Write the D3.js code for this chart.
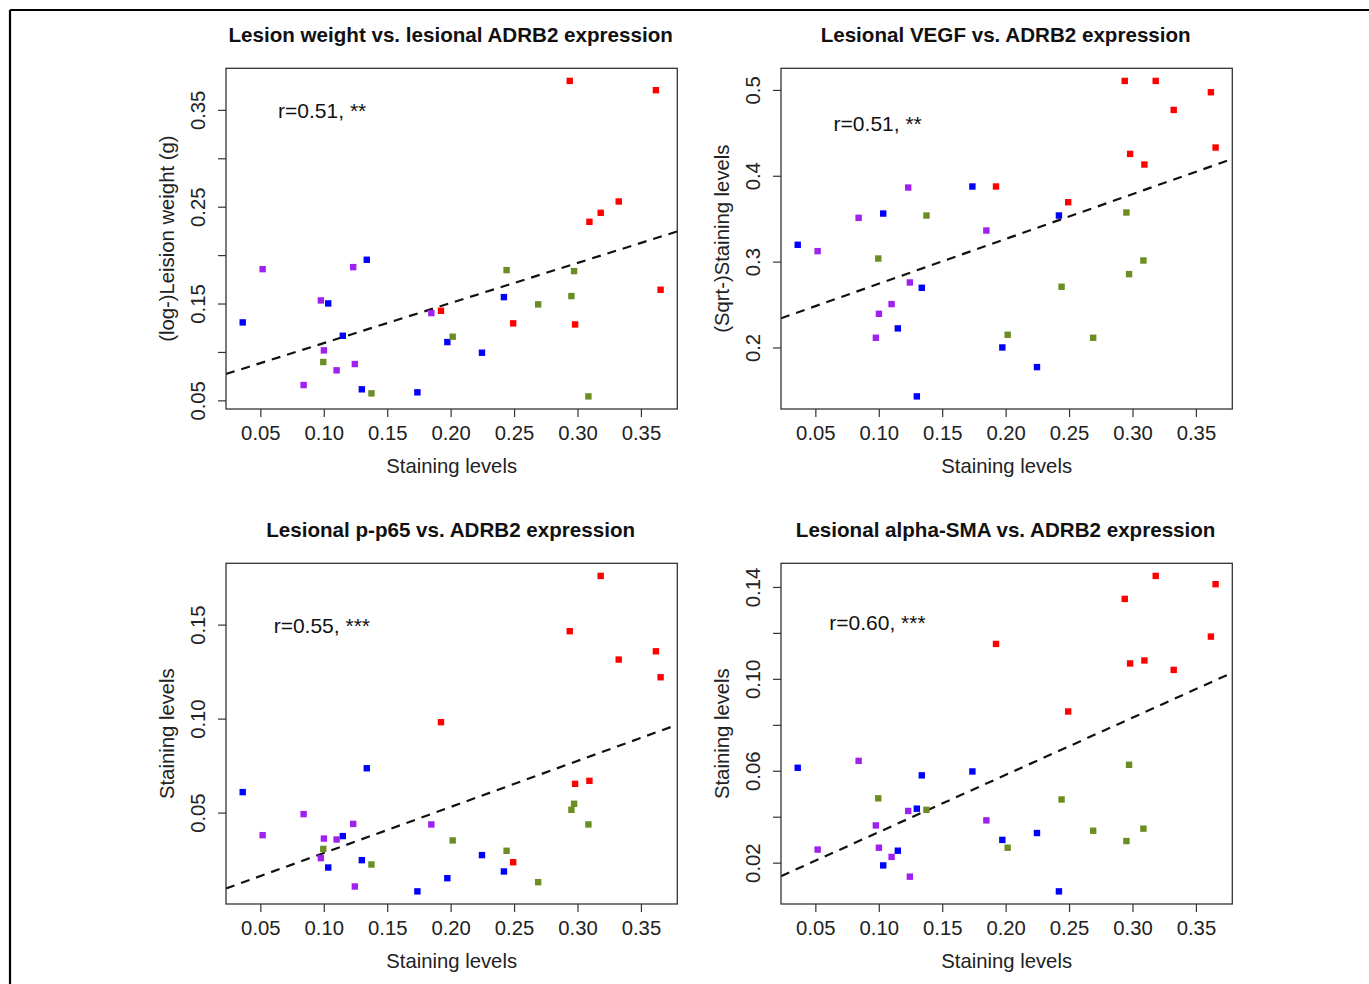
<!DOCTYPE html>
<html>
<head>
<meta charset="utf-8">
<script src="https://cdn.jsdelivr.net/npm/d3@7.9.0/dist/d3.min.js"></script>
<style>
  body { margin: 0; background: #fff; }
  svg { display: block; font-family: 'Liberation Sans', Arial, sans-serif; }
</style>
</head>
<body>
<div id="chart"></div>
<script>
// staining levels (x) shared by all four panels, one array per group
const redX = [0.1924, 0.2493, 0.2939, 0.2981, 0.3094, 0.3183, 0.3325, 0.3618, 0.3655];
const blueX = [0.0361, 0.1035, 0.1150, 0.1300, 0.1339, 0.1738, 0.1974, 0.2247, 0.2420];
const purpleX = [0.0518, 0.0841, 0.0977, 0.1001, 0.1101, 0.1232, 0.1245, 0.1848];
const greenX = [0.0996, 0.1376, 0.2016, 0.2441, 0.2690, 0.2952, 0.2973, 0.3086];

// panel 1: (log-)lesion weight
const weightRed = [0.1425, 0.1295, 0.3799, 0.1284, 0.2344, 0.2437, 0.2554, 0.3703, 0.1642];
const weightBlue = [0.1305, 0.1501, 0.1167, 0.0614, 0.1952, 0.0583, 0.1102, 0.0992, 0.1566];
const weightPurple = [0.1855, 0.0658, 0.1532, 0.1016, 0.0810, 0.1876, 0.0875, 0.1401];
const weightGreen = [0.0896, 0.0572, 0.1157, 0.1845, 0.1491, 0.1577, 0.1835, 0.0541];

// panel 2: (sqrt-)VEGF
const vegfRed = [0.3875, 0.3692, 0.5105, 0.4255, 0.4131, 0.5105, 0.4767, 0.4973, 0.4329];
const vegfBlue = [0.3196, 0.3560, 0.2222, 0.1430, 0.2695, 0.3875, 0.2000, 0.1771, 0.3537];
const vegfPurple = [0.3122, 0.3510, 0.2113, 0.2392, 0.2505, 0.3863, 0.2757, 0.3362];
const vegfGreen = [0.3036, 0.3537, 0.2148, 0.2707, 0.2113, 0.3572, 0.2854, 0.3013];

// panel 3: p-p65
const p65Red = [0.0981, 0.0236, 0.1465, 0.0653, 0.0669, 0.1759, 0.1314, 0.1358, 0.1220];
const p65Blue = [0.0609, 0.0208, 0.0375, 0.0247, 0.0736, 0.0081, 0.0151, 0.0274, 0.0187];
const p65Purple = [0.0380, 0.0492, 0.0258, 0.0362, 0.0357, 0.0440, 0.0107, 0.0437];
const p65Green = [0.0307, 0.0224, 0.0352, 0.0297, 0.0130, 0.0515, 0.0547, 0.0437];

// panel 4: alpha-SMA
const smaRed = [0.1152, 0.0858, 0.1348, 0.1067, 0.1080, 0.1448, 0.1039, 0.1184, 0.1412];
const smaBlue = [0.0613, 0.0188, 0.0252, 0.0435, 0.0580, 0.0597, 0.0299, 0.0329, 0.0075];
const smaPurple = [0.0257, 0.0643, 0.0362, 0.0265, 0.0225, 0.0425, 0.0139, 0.0384];
const smaGreen = [0.0480, 0.0430, 0.0265, 0.0475, 0.0339, 0.0294, 0.0626, 0.0348];

const titles = [
  'Lesion weight vs. lesional ADRB2 expression',
  'Lesional VEGF vs. ADRB2 expression',
  'Lesional p-p65 vs. ADRB2 expression',
  'Lesional alpha-SMA vs. ADRB2 expression',
];
const yTitles = ['(log-)Leision weight (g)', '(Sqrt-)Staining levels', 'Staining levels', 'Staining levels'];
const xTitle = 'Staining levels';
const rLabels = ['r=0.51, **', 'r=0.51, **', 'r=0.55, ***', 'r=0.60, ***'];
const rLabelX = [0.064, 0.0644, 0.0605, 0.061];
const rLabelY = [0.3417, 0.4519, 0.1456, 0.1214];

// fitted lines: intercept, slope
const fitIntercept = [0.0677, 0.222, 0.0040, 0.0084];
const fitSlope = [0.414, 0.522, 0.245, 0.249];

const xTicks = [0.05, 0.10, 0.15, 0.20, 0.25, 0.30, 0.35];
const yTicks = [
  [0.05, 0.10, 0.15, 0.20, 0.25, 0.30, 0.35],
  [0.2, 0.3, 0.4, 0.5],
  [0.05, 0.10, 0.15],
  [0.02, 0.04, 0.06, 0.08, 0.10, 0.12, 0.14],
];
const yTickLabels = [
  ['0.05', '', '0.15', '', '0.25', '', '0.35'],
  ['0.2', '0.3', '0.4', '0.5'],
  ['0.05', '0.10', '0.15'],
  ['0.02', '', '0.06', '', '0.10', '', '0.14'],
];

const groupColors = ['#ff0000', '#0000ff', '#a020f0', '#6b8e23'];
const groupX = [redX, blueX, purpleX, greenX];
const panelY = [
  [weightRed, weightBlue, weightPurple, weightGreen],
  [vegfRed, vegfBlue, vegfPurple, vegfGreen],
  [p65Red, p65Blue, p65Purple, p65Green],
  [smaRed, smaBlue, smaPurple, smaGreen],
];

const width = 1369;
const height = 984;
const boxes = [
  { left: 226, right: 677.3, top: 68.3, bottom: 409 },
  { left: 781, right: 1232.3, top: 68.3, bottom: 409 },
  { left: 226, right: 677.3, top: 563.3, bottom: 904 },
  { left: 781, right: 1232.3, top: 563.3, bottom: 904 },
];

// R-style axis range: data extent padded by 4%
function padded(values) {
  const [lo, hi] = d3.extent(values);
  const pad = (hi - lo) * 0.04;
  return [lo - pad, hi + pad];
}

const svg = d3
  .select('#chart')
  .append('svg')
  .attr('width', width)
  .attr('height', height);

// outer frame (top and left edges only)
svg.append('line')
  .attr('x1', 10).attr('y1', 10).attr('x2', width).attr('y2', 10)
  .attr('stroke', '#000').attr('stroke-width', 2.2);
svg.append('line')
  .attr('x1', 10).attr('y1', 10).attr('x2', 10).attr('y2', height)
  .attr('stroke', '#000').attr('stroke-width', 2.2);

const allX = groupX.flat();
const labelFont = 20.3;

function renderPanel(i) {
  const box = boxes[i];
  const points = [];
  panelY[i].forEach((ys, g) => {
    ys.forEach((y, k) => points.push({ x: groupX[g][k], y, color: groupColors[g] }));
  });

  const x = d3.scaleLinear().domain(padded(allX)).range([box.left, box.right]);
  const y = d3.scaleLinear().domain(padded(points.map((d) => d.y))).range([box.bottom, box.top]);

  const g = svg.append('g').attr('class', 'panel');

  g.append('text')
    .attr('x', (box.left + box.right) / 2 - 1)
    .attr('y', box.top - 26)
    .attr('text-anchor', 'middle')
    .attr('font-weight', 'bold')
    .attr('font-size', 20.6)
    .attr('fill', '#111')
    .text(titles[i]);

  const xAxis = d3.axisBottom(x).tickValues(xTicks).tickFormat(d3.format('.2f'))
    .tickSize(8).tickPadding(9);
  const xg = g.append('g')
    .attr('transform', `translate(0, ${box.bottom})`)
    .call(xAxis);
  xg.select('.domain').remove();
  xg.selectAll('.tick line').attr('stroke', '#333').attr('stroke-width', 1.2);
  xg.selectAll('.tick text')
    .attr('font-family', 'Liberation Sans, Arial, sans-serif')
    .attr('font-size', labelFont)
    .attr('fill', '#222');

  const labels = yTickLabels[i];
  const yAxis = d3.axisLeft(y).tickValues(yTicks[i])
    .tickFormat((d, k) => labels[k]).tickSize(8).tickPadding(0);
  const yg = g.append('g')
    .attr('transform', `translate(${box.left}, 0)`)
    .call(yAxis);
  yg.select('.domain').remove();
  yg.selectAll('.tick line').attr('stroke', '#333').attr('stroke-width', 1.2);
  yg.selectAll('.tick text')
    .attr('font-family', 'Liberation Sans, Arial, sans-serif')
    .attr('font-size', labelFont)
    .attr('fill', '#222')
    .attr('text-anchor', 'middle')
    .attr('dy', 0)
    .attr('x', 0)
    .attr('transform', 'translate(-21.5, 0) rotate(-90)');

  g.append('text')
    .attr('transform', `translate(${box.left - 52}, ${(box.top + box.bottom) / 2}) rotate(-90)`)
    .attr('text-anchor', 'middle')
    .attr('font-size', labelFont)
    .attr('fill', '#222')
    .text(yTitles[i]);

  g.append('text')
    .attr('x', (box.left + box.right) / 2)
    .attr('y', box.bottom + 64)
    .attr('text-anchor', 'middle')
    .attr('font-size', labelFont)
    .attr('fill', '#222')
    .text(xTitle);

  const clipId = `clip-${i}`;
  g.append('clipPath').attr('id', clipId)
    .append('rect')
    .attr('x', box.left).attr('y', box.top)
    .attr('width', box.right - box.left).attr('height', box.bottom - box.top);

  const [x0, x1] = x.domain();
  g.append('line')
    .attr('clip-path', `url(#${clipId})`)
    .attr('x1', x(x0)).attr('y1', y(fitIntercept[i] + fitSlope[i] * x0))
    .attr('x2', x(x1)).attr('y2', y(fitIntercept[i] + fitSlope[i] * x1))
    .attr('stroke', '#111')
    .attr('stroke-width', 2.2)
    .attr('stroke-dasharray', '9,7');

  const size = 6.4;
  g.append('g')
    .selectAll('rect')
    .data(points)
    .join('rect')
    .attr('x', (d) => x(d.x) - size / 2)
    .attr('y', (d) => y(d.y) - size / 2)
    .attr('width', size)
    .attr('height', size)
    .attr('fill', (d) => d.color);

  g.append('text')
    .attr('x', x(rLabelX[i]))
    .attr('y', y(rLabelY[i]))
    .attr('font-size', 21)
    .attr('fill', '#111')
    .text(rLabels[i]);

  g.append('rect')
    .attr('x', box.left).attr('y', box.top)
    .attr('width', box.right - box.left).attr('height', box.bottom - box.top)
    .attr('fill', 'none')
    .attr('stroke', '#333')
    .attr('stroke-width', 1.3);
}

[0, 1, 2, 3].forEach(renderPanel);
</script>
</body>
</html>
